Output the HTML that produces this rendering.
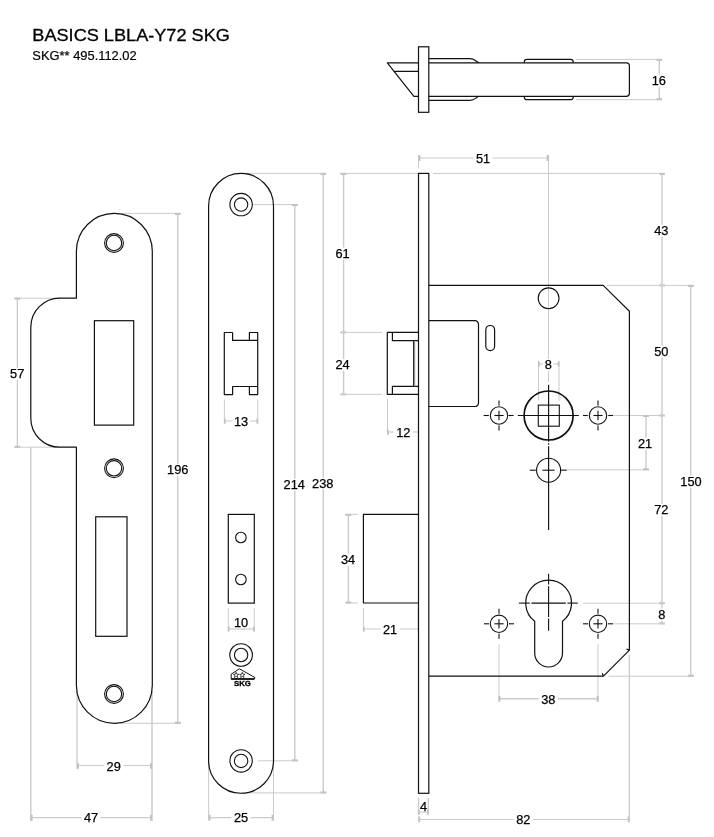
<!DOCTYPE html>
<html><head><meta charset="utf-8"><title>BASICS LBLA-Y72 SKG</title>
<style>
html,body{margin:0;padding:0;background:#fff;}
body{width:714px;height:837px;overflow:hidden;font-family:"Liberation Sans",sans-serif;}
svg{display:block;will-change:transform;}
svg text{font-family:"Liberation Sans",sans-serif;fill:#000;}
</style></head><body>
<svg width="714" height="837" viewBox="0 0 714 837">
<text x="32.3" y="40.7" font-size="17.2" textLength="197.6" lengthAdjust="spacingAndGlyphs" stroke="#000" stroke-width="0.3">BASICS LBLA-Y72 SKG</text>
<text x="32.3" y="60" font-size="12.9" stroke="#000" stroke-width="0.2">SKG** 495.112.02</text>
<line x1="122" y1="213.4" x2="181" y2="213.4" stroke="#cbcbcb" stroke-width="1.0"/>
<line x1="114" y1="723.3" x2="181" y2="723.3" stroke="#cbcbcb" stroke-width="1.0"/>
<line x1="177.7" y1="213.4" x2="177.7" y2="723.3" stroke="#cbcbcb" stroke-width="1.4"/>
<line x1="174.79999999999998" y1="213.9" x2="180.6" y2="213.9" stroke="#c2c2c2" stroke-width="2.0"/>
<line x1="174.79999999999998" y1="722.8" x2="180.6" y2="722.8" stroke="#c2c2c2" stroke-width="2.0"/>
<line x1="14.3" y1="298.2" x2="60" y2="298.2" stroke="#cbcbcb" stroke-width="1.0"/>
<line x1="14.3" y1="447.2" x2="60" y2="447.2" stroke="#cbcbcb" stroke-width="1.0"/>
<line x1="17.4" y1="298" x2="17.4" y2="447.3" stroke="#cbcbcb" stroke-width="1.4"/>
<line x1="14.499999999999998" y1="298.6" x2="20.299999999999997" y2="298.6" stroke="#c2c2c2" stroke-width="2.0"/>
<line x1="14.499999999999998" y1="446.8" x2="20.299999999999997" y2="446.8" stroke="#c2c2c2" stroke-width="2.0"/>
<line x1="77" y1="690" x2="77" y2="769.3" stroke="#cbcbcb" stroke-width="1.3"/>
<line x1="152" y1="690" x2="152" y2="821" stroke="#cbcbcb" stroke-width="1.5"/>
<line x1="77" y1="765.5" x2="151.8" y2="765.5" stroke="#cbcbcb" stroke-width="1.2"/>
<line x1="77.9" y1="762.9" x2="77.9" y2="768.6999999999999" stroke="#c2c2c2" stroke-width="2.0"/>
<line x1="151" y1="762.9" x2="151" y2="768.6999999999999" stroke="#c2c2c2" stroke-width="2.0"/>
<line x1="30.8" y1="447" x2="30.8" y2="821" stroke="#cbcbcb" stroke-width="1.4"/>
<line x1="30.8" y1="817.7" x2="151.8" y2="817.7" stroke="#cbcbcb" stroke-width="1.2"/>
<line x1="31.7" y1="814.8000000000001" x2="31.7" y2="820.6" stroke="#c2c2c2" stroke-width="2.0"/>
<line x1="151" y1="814.8000000000001" x2="151" y2="820.6" stroke="#c2c2c2" stroke-width="2.0"/>
<line x1="224.4" y1="399.4" x2="224.4" y2="423.6" stroke="#cbcbcb" stroke-width="1.0"/>
<line x1="257.7" y1="399.4" x2="257.7" y2="423.6" stroke="#cbcbcb" stroke-width="1.0"/>
<line x1="224.4" y1="421" x2="257.7" y2="421" stroke="#cbcbcb" stroke-width="1.2"/>
<line x1="224.8" y1="418.5" x2="224.8" y2="423.5" stroke="#c2c2c2" stroke-width="1.8"/>
<line x1="257.3" y1="418.5" x2="257.3" y2="423.5" stroke="#c2c2c2" stroke-width="1.8"/>
<line x1="228.3" y1="608" x2="228.3" y2="631.5" stroke="#cbcbcb" stroke-width="1.0"/>
<line x1="254.3" y1="608" x2="254.3" y2="631.5" stroke="#cbcbcb" stroke-width="1.0"/>
<line x1="228.3" y1="629" x2="254.3" y2="629" stroke="#cbcbcb" stroke-width="1.2"/>
<line x1="228.7" y1="626.5" x2="228.7" y2="631.5" stroke="#c2c2c2" stroke-width="1.8"/>
<line x1="253.9" y1="626.5" x2="253.9" y2="631.5" stroke="#c2c2c2" stroke-width="1.8"/>
<line x1="253" y1="204.6" x2="298.3" y2="204.6" stroke="#cbcbcb" stroke-width="1.0"/>
<line x1="258" y1="760.8" x2="298.3" y2="760.8" stroke="#cbcbcb" stroke-width="1.0"/>
<line x1="294.8" y1="204.6" x2="294.8" y2="760.8" stroke="#cbcbcb" stroke-width="1.4"/>
<line x1="291.90000000000003" y1="205.1" x2="297.7" y2="205.1" stroke="#c2c2c2" stroke-width="2.0"/>
<line x1="291.90000000000003" y1="760.3" x2="297.7" y2="760.3" stroke="#c2c2c2" stroke-width="2.0"/>
<line x1="241" y1="173.4" x2="326.4" y2="173.4" stroke="#cbcbcb" stroke-width="1.0"/>
<line x1="241" y1="792.9" x2="326.4" y2="792.9" stroke="#cbcbcb" stroke-width="1.0"/>
<line x1="323.3" y1="173.4" x2="323.3" y2="792.9" stroke="#cbcbcb" stroke-width="1.4"/>
<line x1="320.40000000000003" y1="173.9" x2="326.2" y2="173.9" stroke="#c2c2c2" stroke-width="2.0"/>
<line x1="320.40000000000003" y1="792.4" x2="326.2" y2="792.4" stroke="#c2c2c2" stroke-width="2.0"/>
<line x1="208.6" y1="761" x2="208.6" y2="820.5" stroke="#cbcbcb" stroke-width="1.0"/>
<line x1="273.5" y1="761" x2="273.5" y2="820.5" stroke="#cbcbcb" stroke-width="1.0"/>
<line x1="208.6" y1="817.7" x2="273.5" y2="817.7" stroke="#cbcbcb" stroke-width="1.2"/>
<line x1="209.5" y1="814.8000000000001" x2="209.5" y2="820.6" stroke="#c2c2c2" stroke-width="2.0"/>
<line x1="272.6" y1="814.8000000000001" x2="272.6" y2="820.6" stroke="#c2c2c2" stroke-width="2.0"/>
<line x1="339.8" y1="173.4" x2="418" y2="173.4" stroke="#cbcbcb" stroke-width="1.0"/>
<line x1="433" y1="173.4" x2="665" y2="173.4" stroke="#cbcbcb" stroke-width="1.0"/>
<line x1="343.6" y1="173.4" x2="343.6" y2="394.5" stroke="#cbcbcb" stroke-width="1.4"/>
<line x1="340.70000000000005" y1="173.9" x2="346.5" y2="173.9" stroke="#c2c2c2" stroke-width="2.0"/>
<line x1="340.70000000000005" y1="332.4" x2="346.5" y2="332.4" stroke="#c2c2c2" stroke-width="2.0"/>
<line x1="340.70000000000005" y1="394.4" x2="346.5" y2="394.4" stroke="#c2c2c2" stroke-width="2.0"/>
<line x1="339.8" y1="332.4" x2="382" y2="332.4" stroke="#cbcbcb" stroke-width="1.0"/>
<line x1="339.8" y1="394.4" x2="382" y2="394.4" stroke="#cbcbcb" stroke-width="1.0"/>
<line x1="387.5" y1="399" x2="387.5" y2="435.2" stroke="#cbcbcb" stroke-width="1.0"/>
<line x1="387.5" y1="432" x2="418" y2="432" stroke="#cbcbcb" stroke-width="1.2"/>
<line x1="387.9" y1="429.5" x2="387.9" y2="434.5" stroke="#c2c2c2" stroke-width="1.8"/>
<line x1="345.3" y1="514.4" x2="358" y2="514.4" stroke="#cbcbcb" stroke-width="1.0"/>
<line x1="345.3" y1="603" x2="358" y2="603" stroke="#cbcbcb" stroke-width="1.0"/>
<line x1="348.4" y1="514.4" x2="348.4" y2="603" stroke="#cbcbcb" stroke-width="1.4"/>
<line x1="345.5" y1="514.9" x2="351.29999999999995" y2="514.9" stroke="#c2c2c2" stroke-width="2.0"/>
<line x1="345.5" y1="602.5" x2="351.29999999999995" y2="602.5" stroke="#c2c2c2" stroke-width="2.0"/>
<line x1="363.4" y1="608" x2="363.4" y2="631.5" stroke="#cbcbcb" stroke-width="1.0"/>
<line x1="418.3" y1="608" x2="418.3" y2="631.5" stroke="#cbcbcb" stroke-width="1.0"/>
<line x1="363.4" y1="629" x2="418.3" y2="629" stroke="#cbcbcb" stroke-width="1.2"/>
<line x1="363.8" y1="626.5" x2="363.8" y2="631.5" stroke="#c2c2c2" stroke-width="1.8"/>
<line x1="418.5" y1="798" x2="418.5" y2="814.8" stroke="#cbcbcb" stroke-width="1.3"/>
<line x1="428.3" y1="798" x2="428.3" y2="814.8" stroke="#cbcbcb" stroke-width="1.3"/>
<line x1="418.5" y1="812.1" x2="428.3" y2="812.1" stroke="#cbcbcb" stroke-width="1.1"/>
<line x1="419" y1="809.2" x2="419" y2="814.8" stroke="#c2c2c2" stroke-width="1.6"/>
<line x1="427.8" y1="809.2" x2="427.8" y2="814.8" stroke="#c2c2c2" stroke-width="1.6"/>
<line x1="418.9" y1="819.5" x2="629.4" y2="819.5" stroke="#cbcbcb" stroke-width="1.2"/>
<line x1="419.2" y1="816.4" x2="419.2" y2="822.1999999999999" stroke="#c2c2c2" stroke-width="2.0"/>
<line x1="628.6" y1="816.4" x2="628.6" y2="822.1999999999999" stroke="#c2c2c2" stroke-width="2.0"/>
<line x1="629.3" y1="655.1" x2="629.3" y2="822.3" stroke="#cbcbcb" stroke-width="1.3"/>
<line x1="418.5" y1="155" x2="418.5" y2="168.5" stroke="#cbcbcb" stroke-width="1.0"/>
<line x1="548.5" y1="155" x2="548.5" y2="382" stroke="#cbcbcb" stroke-width="1.0"/>
<line x1="418.5" y1="158" x2="548.5" y2="158" stroke="#cbcbcb" stroke-width="1.2"/>
<line x1="419.4" y1="155.1" x2="419.4" y2="160.9" stroke="#c2c2c2" stroke-width="2.0"/>
<line x1="547.6" y1="155.1" x2="547.6" y2="160.9" stroke="#c2c2c2" stroke-width="2.0"/>
<line x1="662" y1="173.4" x2="662" y2="623.8" stroke="#cbcbcb" stroke-width="1.4"/>
<line x1="659.1" y1="173.9" x2="664.9" y2="173.9" stroke="#c2c2c2" stroke-width="2.0"/>
<line x1="659.1" y1="285.4" x2="664.9" y2="285.4" stroke="#c2c2c2" stroke-width="2.0"/>
<line x1="659.1" y1="415.5" x2="664.9" y2="415.5" stroke="#c2c2c2" stroke-width="2.0"/>
<line x1="659.1" y1="603.2" x2="664.9" y2="603.2" stroke="#c2c2c2" stroke-width="2.0"/>
<line x1="659.1" y1="623.4" x2="664.9" y2="623.4" stroke="#c2c2c2" stroke-width="2.0"/>
<line x1="607" y1="285.4" x2="694" y2="285.4" stroke="#cbcbcb" stroke-width="1.0"/>
<line x1="608.2" y1="676.2" x2="694" y2="676.2" stroke="#cbcbcb" stroke-width="1.0"/>
<line x1="690.8" y1="285.4" x2="690.8" y2="676.2" stroke="#cbcbcb" stroke-width="1.4"/>
<line x1="687.9" y1="285.9" x2="693.6999999999999" y2="285.9" stroke="#c2c2c2" stroke-width="2.0"/>
<line x1="687.9" y1="675.7" x2="693.6999999999999" y2="675.7" stroke="#c2c2c2" stroke-width="2.0"/>
<line x1="613.3" y1="415.5" x2="665" y2="415.5" stroke="#cbcbcb" stroke-width="1.0"/>
<line x1="565.5" y1="469.8" x2="649" y2="469.8" stroke="#cbcbcb" stroke-width="1.0"/>
<line x1="646" y1="415.5" x2="646" y2="469.8" stroke="#cbcbcb" stroke-width="1.4"/>
<line x1="643.1" y1="416" x2="648.9" y2="416" stroke="#c2c2c2" stroke-width="2.0"/>
<line x1="643.1" y1="469.3" x2="648.9" y2="469.3" stroke="#c2c2c2" stroke-width="2.0"/>
<line x1="583" y1="603.2" x2="665" y2="603.2" stroke="#cbcbcb" stroke-width="1.0"/>
<line x1="613.3" y1="623.8" x2="665" y2="623.8" stroke="#cbcbcb" stroke-width="1.0"/>
<line x1="538.5" y1="360.8" x2="538.5" y2="400.5" stroke="#cbcbcb" stroke-width="1.0"/>
<line x1="559" y1="360.8" x2="559" y2="400.5" stroke="#cbcbcb" stroke-width="1.0"/>
<line x1="538.5" y1="364" x2="559" y2="364" stroke="#cbcbcb" stroke-width="1.2"/>
<line x1="538.9" y1="361.5" x2="538.9" y2="366.5" stroke="#c2c2c2" stroke-width="1.8"/>
<line x1="558.6" y1="361.5" x2="558.6" y2="366.5" stroke="#c2c2c2" stroke-width="1.8"/>
<line x1="499" y1="644" x2="499" y2="701.3" stroke="#cbcbcb" stroke-width="1.0"/>
<line x1="598" y1="644" x2="598" y2="701.3" stroke="#cbcbcb" stroke-width="1.0"/>
<line x1="499" y1="698.8" x2="598" y2="698.8" stroke="#cbcbcb" stroke-width="1.4"/>
<line x1="499.4" y1="695.9" x2="499.4" y2="701.6999999999999" stroke="#c2c2c2" stroke-width="2.0"/>
<line x1="597.6" y1="695.9" x2="597.6" y2="701.6999999999999" stroke="#c2c2c2" stroke-width="2.0"/>
<line x1="576" y1="59.4" x2="662" y2="59.4" stroke="#cbcbcb" stroke-width="1.0"/>
<line x1="576" y1="99.7" x2="662" y2="99.7" stroke="#cbcbcb" stroke-width="1.0"/>
<line x1="659.3" y1="59.4" x2="659.3" y2="99.7" stroke="#cbcbcb" stroke-width="1.4"/>
<line x1="656.4" y1="59.9" x2="662.1999999999999" y2="59.9" stroke="#c2c2c2" stroke-width="2.0"/>
<line x1="656.4" y1="99.2" x2="662.1999999999999" y2="99.2" stroke="#c2c2c2" stroke-width="2.0"/>
<rect x="164.5248" y="464.3" width="26.350400000000004" height="12" fill="#fff"/>
<text x="177.7" y="474.31" font-size="12.8" text-anchor="middle" stroke="#000" stroke-width="0.25">196</text>
<rect x="7.583199999999998" y="367.8" width="19.233600000000003" height="12" fill="#fff"/>
<text x="17.2" y="377.81" font-size="12.8" text-anchor="middle" stroke="#000" stroke-width="0.25">57</text>
<rect x="104.0832" y="760.8" width="19.233600000000003" height="12" fill="#fff"/>
<text x="113.7" y="770.81" font-size="12.8" text-anchor="middle" stroke="#000" stroke-width="0.25">29</text>
<rect x="81.3832" y="812.2" width="19.233600000000003" height="12" fill="#fff"/>
<text x="91" y="822.21" font-size="12.8" text-anchor="middle" stroke="#000" stroke-width="0.25">47</text>
<rect x="232.3832" y="415.6" width="17.233600000000003" height="12" fill="#fff"/>
<text x="241" y="425.61" font-size="12.8" text-anchor="middle" stroke="#000" stroke-width="0.25">13</text>
<text x="241" y="627.31" font-size="12.8" text-anchor="middle" stroke="#000" stroke-width="0.25">10</text>
<rect x="281.1248" y="478.8" width="26.350400000000004" height="12" fill="#fff"/>
<text x="294.3" y="488.81" font-size="12.8" text-anchor="middle" stroke="#000" stroke-width="0.25">214</text>
<rect x="309.52479999999997" y="477.8" width="26.350400000000004" height="12" fill="#fff"/>
<text x="322.7" y="487.81" font-size="12.8" text-anchor="middle" stroke="#000" stroke-width="0.25">238</text>
<rect x="231.3832" y="812.2" width="19.233600000000003" height="12" fill="#fff"/>
<text x="241" y="822.21" font-size="12.8" text-anchor="middle" stroke="#000" stroke-width="0.25">25</text>
<rect x="332.8832" y="247.6" width="19.233600000000003" height="12" fill="#fff"/>
<text x="342.5" y="257.61" font-size="12.8" text-anchor="middle" stroke="#000" stroke-width="0.25">61</text>
<rect x="332.8832" y="358.8" width="19.233600000000003" height="12" fill="#fff"/>
<text x="342.5" y="368.81" font-size="12.8" text-anchor="middle" stroke="#000" stroke-width="0.25">24</text>
<rect x="393.6832" y="426.8" width="19.233600000000003" height="12" fill="#fff"/>
<text x="403.3" y="436.81" font-size="12.8" text-anchor="middle" stroke="#000" stroke-width="0.25">12</text>
<rect x="338.4832" y="553.7" width="19.233600000000003" height="12" fill="#fff"/>
<text x="348.1" y="563.71" font-size="12.8" text-anchor="middle" stroke="#000" stroke-width="0.25">34</text>
<rect x="380.3832" y="623.8" width="19.233600000000003" height="12" fill="#fff"/>
<text x="390" y="633.81" font-size="12.8" text-anchor="middle" stroke="#000" stroke-width="0.25">21</text>
<text x="423.6" y="811.21" font-size="12.8" text-anchor="middle" stroke="#000" stroke-width="0.25">4</text>
<rect x="513.6831999999999" y="813.5" width="19.233600000000003" height="12" fill="#fff"/>
<text x="523.3" y="823.51" font-size="12.8" text-anchor="middle" stroke="#000" stroke-width="0.25">82</text>
<rect x="473.3832" y="152.7" width="19.233600000000003" height="12" fill="#fff"/>
<text x="483" y="162.71" font-size="12.8" text-anchor="middle" stroke="#000" stroke-width="0.25">51</text>
<rect x="651.6831999999999" y="224.8" width="19.233600000000003" height="12" fill="#fff"/>
<text x="661.3" y="234.81" font-size="12.8" text-anchor="middle" stroke="#000" stroke-width="0.25">43</text>
<rect x="651.6831999999999" y="345.8" width="19.233600000000003" height="12" fill="#fff"/>
<text x="661.3" y="355.81" font-size="12.8" text-anchor="middle" stroke="#000" stroke-width="0.25">50</text>
<rect x="677.8248" y="475.8" width="26.350400000000004" height="12" fill="#fff"/>
<text x="691" y="485.81" font-size="12.8" text-anchor="middle" stroke="#000" stroke-width="0.25">150</text>
<rect x="635.3832" y="437.8" width="19.233600000000003" height="12" fill="#fff"/>
<text x="645" y="447.81" font-size="12.8" text-anchor="middle" stroke="#000" stroke-width="0.25">21</text>
<rect x="651.6831999999999" y="503.8" width="19.233600000000003" height="12" fill="#fff"/>
<text x="661.3" y="513.81" font-size="12.8" text-anchor="middle" stroke="#000" stroke-width="0.25">72</text>
<rect x="657.1416" y="608.6" width="9.116800000000001" height="12" fill="#fff"/>
<text x="661.7" y="618.61" font-size="12.8" text-anchor="middle" stroke="#000" stroke-width="0.25">8</text>
<rect x="542.7416" y="359" width="11.116800000000001" height="12" fill="#fff"/>
<text x="548.3" y="369.01" font-size="12.8" text-anchor="middle" stroke="#000" stroke-width="0.25">8</text>
<rect x="538.6831999999999" y="693.8" width="19.233600000000003" height="12" fill="#fff"/>
<text x="548.3" y="703.81" font-size="12.8" text-anchor="middle" stroke="#000" stroke-width="0.25">38</text>
<rect x="649.1831999999999" y="74.8" width="19.233600000000003" height="12" fill="#fff"/>
<text x="658.8" y="84.81" font-size="12.8" text-anchor="middle" stroke="#000" stroke-width="0.25">16</text>
<path d="M76.4 251.35 A37.95 37.95 0 0 1 152.3 251.35 L152.3 685.35 A37.95 37.95 0 0 1 76.4 685.35 L76.4 447.2 L59.8 447.2 A29 29 0 0 1 30.8 418.2 L30.8 327.2 A29 29 0 0 1 59.8 298.2 L76.4 298.2 Z" fill="none" stroke="#111" stroke-width="1.2" stroke-linejoin="round" />
<rect x="94.4" y="320.7" width="39.30" height="104.40" rx="0" fill="none" stroke="#111" stroke-width="1.2"/>
<rect x="95.7" y="516.8" width="31.30" height="119.50" rx="0" fill="none" stroke="#111" stroke-width="1.2"/>
<circle cx="114" cy="243" r="9.4" fill="none" stroke="#111" stroke-width="1.1"/>
<circle cx="114" cy="243" r="7.7" fill="none" stroke="#111" stroke-width="1.1"/>
<circle cx="114" cy="468.3" r="9.4" fill="none" stroke="#111" stroke-width="1.1"/>
<circle cx="114" cy="468.3" r="7.7" fill="none" stroke="#111" stroke-width="1.1"/>
<circle cx="114" cy="694" r="9.4" fill="none" stroke="#111" stroke-width="1.1"/>
<circle cx="114" cy="694" r="7.7" fill="none" stroke="#111" stroke-width="1.1"/>
<path d="M208.6 205.9 A32.45 32.45 0 0 1 273.5 205.9 L273.5 760.8 A32.45 32.45 0 0 1 208.6 760.8 Z" fill="none" stroke="#111" stroke-width="1.2" stroke-linejoin="round" />
<circle cx="241.1" cy="204.6" r="11.2" fill="none" stroke="#111" stroke-width="1.1"/>
<circle cx="241.1" cy="204.6" r="6.7" fill="none" stroke="#111" stroke-width="1.1"/>
<circle cx="241.1" cy="760.9" r="11.2" fill="none" stroke="#111" stroke-width="1.1"/>
<circle cx="241.1" cy="760.9" r="6.7" fill="none" stroke="#111" stroke-width="1.1"/>
<circle cx="241.1" cy="655" r="11.3" fill="none" stroke="#111" stroke-width="1.1"/>
<circle cx="241.1" cy="655" r="6.7" fill="none" stroke="#111" stroke-width="1.1"/>
<path d="M232.6 332.5 L224.3 332.5 L224.3 394.6 L232.6 394.6 L232.6 386.5 L257.7 386.5 M232.6 332.5 L232.6 340.4 L257.7 340.4 M249.4 340.4 L249.4 332.5 L257.7 332.5 L257.7 394.6 L249.4 394.6 L249.4 386.5" fill="none" stroke="#111" stroke-width="1.2" stroke-linejoin="round" />
<rect x="228.3" y="514.4" width="26.00" height="88.70" rx="0" fill="none" stroke="#111" stroke-width="1.2"/>
<circle cx="240.9" cy="537.5" r="5.3" fill="none" stroke="#111" stroke-width="1.1"/>
<circle cx="240.9" cy="579.5" r="5.3" fill="none" stroke="#111" stroke-width="1.1"/>
<path d="M231.2 674.2 L239.4 668.8 L255 677.6 L253.8 679.2 L231.2 679.2 Z" fill="none" stroke="#111" stroke-width="1.0" stroke-linejoin="round" />
<polygon points="236.10,672.30 236.82,674.21 238.86,674.30 237.26,675.58 237.80,677.55 236.10,676.42 234.40,677.55 234.94,675.58 233.34,674.30 235.38,674.21" fill="none" stroke="#111" stroke-width="0.75"/>
<polygon points="242.30,672.30 243.02,674.21 245.06,674.30 243.46,675.58 244.00,677.55 242.30,676.42 240.60,677.55 241.14,675.58 239.54,674.30 241.58,674.21" fill="none" stroke="#111" stroke-width="0.75"/>
<line x1="231.2" y1="678.9" x2="254.6" y2="678.9" stroke="#111" stroke-width="1.6" />
<text x="242.5" y="686.2" font-size="7.2" font-weight="bold" text-anchor="middle" textLength="16.8" lengthAdjust="spacingAndGlyphs" stroke="#000" stroke-width="0.3">SKG</text>
<rect x="418.5" y="173.4" width="10.30" height="619.90" rx="0" fill="none" stroke="#111" stroke-width="1.2"/>
<path d="M428.8 285.4 L603.2 285.4 L629.4 311.3 L629.4 650.1 L603.5 676.2 L428.8 676.2 M603.5 676.2 L602.2 673.2 M629.4 650.1 L626.5 649.1" fill="none" stroke="#111" stroke-width="1.2" stroke-linejoin="round" />
<path d="M428.8 320.7 L475 320.7 A3.5 3.5 0 0 1 478.5 324.2 L478.5 403 A3.5 3.5 0 0 1 475 406.5 L428.8 406.5" fill="none" stroke="#111" stroke-width="1.2" stroke-linejoin="round" />
<rect x="485.8" y="325.5" width="8.80" height="25.10" rx="4.4" fill="none" stroke="#111" stroke-width="1.2"/>
<circle cx="548.6" cy="298.3" r="10.4" fill="none" stroke="#111" stroke-width="1.1"/>
<path d="M418.5 332.4 L387.3 332.4 L387.3 394.4 L418.5 394.4 M392.4 332.4 L392.4 340.6 L418.5 340.6 M392.4 394.4 L392.4 386.4 L418.5 386.4" fill="none" stroke="#111" stroke-width="1.2" stroke-linejoin="round" />
<line x1="413.6" y1="340.6" x2="413.6" y2="386.4" stroke="#111" stroke-width="1.0" />
<line x1="414.7" y1="340.6" x2="414.7" y2="386.4" stroke="#888" stroke-width="1.0"/>
<path d="M418.5 514.4 L363.4 514.4 L363.4 603 L418.5 603" fill="none" stroke="#111" stroke-width="1.2" stroke-linejoin="round" />
<circle cx="548.6" cy="415.5" r="24.5" fill="none" stroke="#111" stroke-width="1.7"/>
<rect x="538.3" y="405.1" width="21.00" height="21.10" rx="0" fill="none" stroke="#111" stroke-width="1.1"/>
<line x1="548.6" y1="384.8" x2="548.6" y2="441.8" stroke="#111" stroke-width="1.15" />
<line x1="548.6" y1="443.2" x2="548.6" y2="444.8" stroke="#111" stroke-width="1.15" />
<line x1="548.6" y1="446.2" x2="548.6" y2="530" stroke="#111" stroke-width="1.15" />
<line x1="483.6" y1="415.5" x2="488.8" y2="415.5" stroke="#111" stroke-width="1.1" />
<line x1="508.4" y1="415.5" x2="513.6" y2="415.5" stroke="#111" stroke-width="1.1" />
<line x1="517.8" y1="415.5" x2="578.8" y2="415.5" stroke="#111" stroke-width="1.1" />
<line x1="583" y1="415.5" x2="587.8" y2="415.5" stroke="#111" stroke-width="1.1" />
<line x1="608.2" y1="415.5" x2="613" y2="415.5" stroke="#111" stroke-width="1.1" />
<circle cx="499" cy="415.5" r="8.7" fill="none" stroke="#111" stroke-width="1.1"/>
<line x1="494.4" y1="415.5" x2="503.6" y2="415.5" stroke="#111" stroke-width="1.1" />
<line x1="499" y1="410.7" x2="499" y2="420.3" stroke="#111" stroke-width="1.1" />
<line x1="499" y1="400.5" x2="499" y2="405.5" stroke="#111" stroke-width="1.1" />
<line x1="499" y1="425.5" x2="499" y2="430.5" stroke="#111" stroke-width="1.1" />
<circle cx="598" cy="415.5" r="8.7" fill="none" stroke="#111" stroke-width="1.1"/>
<line x1="593.4" y1="415.5" x2="602.6" y2="415.5" stroke="#111" stroke-width="1.1" />
<line x1="598" y1="410.7" x2="598" y2="420.3" stroke="#111" stroke-width="1.1" />
<line x1="598" y1="400.5" x2="598" y2="405.5" stroke="#111" stroke-width="1.1" />
<line x1="598" y1="425.5" x2="598" y2="430.5" stroke="#111" stroke-width="1.1" />
<circle cx="499" cy="623.8" r="8.7" fill="none" stroke="#111" stroke-width="1.1"/>
<line x1="494.4" y1="623.8" x2="503.6" y2="623.8" stroke="#111" stroke-width="1.1" />
<line x1="499" y1="619.0" x2="499" y2="628.5999999999999" stroke="#111" stroke-width="1.1" />
<line x1="499" y1="608.8" x2="499" y2="613.8" stroke="#111" stroke-width="1.1" />
<line x1="499" y1="633.8" x2="499" y2="638.8" stroke="#111" stroke-width="1.1" />
<line x1="484" y1="623.8" x2="489" y2="623.8" stroke="#111" stroke-width="1.1" />
<line x1="509" y1="623.8" x2="514" y2="623.8" stroke="#111" stroke-width="1.1" />
<circle cx="598" cy="623.8" r="8.7" fill="none" stroke="#111" stroke-width="1.1"/>
<line x1="593.4" y1="623.8" x2="602.6" y2="623.8" stroke="#111" stroke-width="1.1" />
<line x1="598" y1="619.0" x2="598" y2="628.5999999999999" stroke="#111" stroke-width="1.1" />
<line x1="598" y1="608.8" x2="598" y2="613.8" stroke="#111" stroke-width="1.1" />
<line x1="598" y1="633.8" x2="598" y2="638.8" stroke="#111" stroke-width="1.1" />
<line x1="583" y1="623.8" x2="588" y2="623.8" stroke="#111" stroke-width="1.1" />
<line x1="608" y1="623.8" x2="613" y2="623.8" stroke="#111" stroke-width="1.1" />
<circle cx="548.6" cy="470.2" r="12" fill="none" stroke="#111" stroke-width="1.1"/>
<line x1="529.8" y1="470.2" x2="535.8" y2="470.2" stroke="#111" stroke-width="1.1" />
<line x1="542.4" y1="470.2" x2="554.6" y2="470.2" stroke="#111" stroke-width="1.1" />
<line x1="561" y1="470.2" x2="566.6" y2="470.2" stroke="#111" stroke-width="1.1" />
<path d="M534.7 621.3 L534.7 653.1 A13.9 13.9 0 0 0 562.5 653.1 L562.5 621.3 A22.9 22.9 0 1 0 534.7 621.3 Z" fill="none" stroke="#111" stroke-width="1.2" stroke-linejoin="round" />
<line x1="518.9" y1="603.1" x2="529.8" y2="603.1" stroke="#111" stroke-width="1.1" />
<line x1="531.4" y1="603.1" x2="565.8" y2="603.1" stroke="#111" stroke-width="1.1" />
<line x1="567.4" y1="603.1" x2="577.8" y2="603.1" stroke="#111" stroke-width="1.1" />
<line x1="548.6" y1="573.8" x2="548.6" y2="584.6" stroke="#111" stroke-width="1.1" />
<line x1="548.6" y1="586.2" x2="548.6" y2="617" stroke="#111" stroke-width="1.1" />
<line x1="548.6" y1="618.6" x2="548.6" y2="630.8" stroke="#111" stroke-width="1.1" />
<rect x="418.5" y="46.8" width="10.30" height="65.50" rx="0" fill="none" stroke="#111" stroke-width="1.2"/>
<path d="M418.5 62.8 L387.3 62.8 L413.9 96.3 L418.5 96.3 M393.8 71.4 L418.5 71.4" fill="none" stroke="#111" stroke-width="1.2" stroke-linejoin="round" />
<path d="M428.8 62.8 L626.4 62.8 A3 3 0 0 1 629.4 65.8 L629.4 93.3 A3 3 0 0 1 626.4 96.3 L428.8 96.3" fill="none" stroke="#111" stroke-width="1.2" stroke-linejoin="round" />
<path d="M428.8 58.6 L470 58.6 C474 58.6 475 60.5 478.8 62.8 M428.8 100.4 L470 100.4 C474 100.4 475 98.5 478.8 96.3" fill="none" stroke="#111" stroke-width="1.2" stroke-linejoin="round" />
<path d="M524.3 62.8 L524.3 61.9 A2.5 2.5 0 0 1 526.8 59.4 L570.7 59.4 A2.5 2.5 0 0 1 573.2 61.9 L573.2 62.8 M524.3 96.3 L524.3 97.2 A2.5 2.5 0 0 0 526.8 99.7 L570.7 99.7 A2.5 2.5 0 0 0 573.2 97.2 L573.2 96.3" fill="none" stroke="#111" stroke-width="1.2" stroke-linejoin="round" />
</svg>
</body></html>
